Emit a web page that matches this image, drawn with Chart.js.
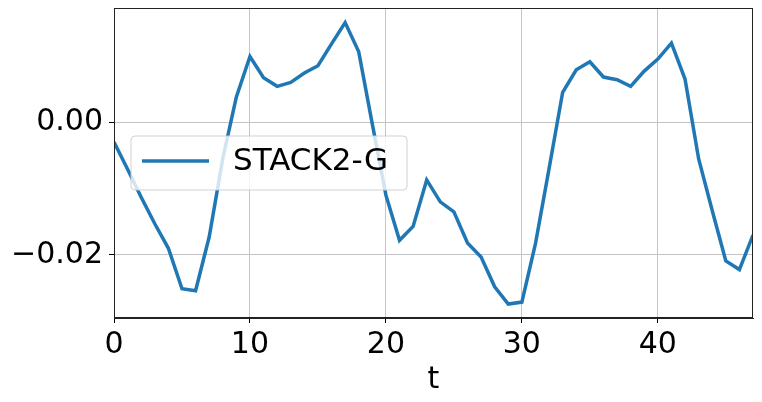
<!DOCTYPE html>
<html lang="en">
<head>
  <meta charset="UTF-8" />
  <title>STACK2-G</title>
  <style>
    html, body { margin: 0; padding: 0; background: #fff; }
    #wrap { width: 762px; height: 402px; }
  </style>
</head>
<body>
  <div id="wrap">
    <canvas id="myChart" width="762" height="402"></canvas>
  </div>

  <script src="https://cdn.jsdelivr.net/npm/chart.js"></script>

  <script>
    // data
    const tValues = [0, 1, 2, 3, 4, 5, 6, 7, 8, 9, 10, 11, 12, 13, 14, 15, 16, 17, 18, 19,
      20, 21, 22, 23, 24, 25, 26, 27, 28, 29, 30, 31, 32, 33, 34, 35, 36, 37, 38, 39,
      40, 41, 42, 43, 44, 45, 46, 47];
    const stack2G = [-0.0030, -0.0071, -0.0113, -0.0153, -0.0190, -0.0251, -0.0254, -0.0173,
      -0.0055, 0.0038, 0.0099, 0.0067, 0.0054, 0.0060, 0.0074, 0.0085, 0.0118, 0.0150,
      0.0106, -0.0003, -0.0110, -0.0178, -0.0157, -0.0087, -0.0120, -0.0135, -0.0182,
      -0.0203, -0.0248, -0.0274, -0.0271, -0.0183, -0.0070, 0.0045, 0.0079, 0.0091,
      0.0068, 0.0064, 0.0054, 0.0077, 0.0095, 0.0119, 0.0065, -0.0055, -0.0133, -0.0209,
      -0.0222, -0.0170];
    const xTicks = [0, 10, 20, 30, 40];
    const yTicks = [-0.02, 0.00];

    const FONT = 'DejaVu Sans';

    // frame round the plot + legend drawn inside the plot area
    const framePlugin = {
      id: 'frame',
      afterDraw(chart) {
        const { ctx, chartArea: a } = chart;
        ctx.save();
        ctx.strokeStyle = '#222';
        ctx.lineWidth = 1;
        ctx.strokeRect(a.left + 0.5, a.top + 0.5, a.right - a.left - 1, a.bottom - a.top - 1);

        // legend box
        const ds = chart.data.datasets[0];
        const bx = 131, by = 136, bw = 276, bh = 54, r = 4;
        ctx.beginPath();
        ctx.roundRect(bx, by, bw, bh, r);
        ctx.fillStyle = 'rgba(255,255,255,0.8)';
        ctx.fill();
        ctx.strokeStyle = 'rgba(204,204,204,0.9)';
        ctx.lineWidth = 1;
        ctx.stroke();

        ctx.beginPath();
        ctx.moveTo(142, 161);
        ctx.lineTo(209, 161);
        ctx.strokeStyle = ds.borderColor;
        ctx.lineWidth = ds.borderWidth;
        ctx.stroke();

        ctx.fillStyle = '#000';
        ctx.font = '31px "' + FONT + '"';
        ctx.textBaseline = 'middle';
        ctx.textAlign = 'left';
        ctx.fillText(ds.label, 233, 162);
        ctx.restore();
      }
    };

    const context = document.getElementById('myChart').getContext('2d');
    const myChart = new Chart(context, {
      type: 'line',
      data: {
        datasets: [{
          label: 'STACK2-G',
          data: tValues.map((t, i) => ({ x: t, y: stack2G[i] })),
          borderColor: '#1f77b4',
          borderWidth: 3.5,
          pointRadius: 0,
          tension: 0,
          fill: false
        }]
      },
      options: {
        responsive: false,
        animation: false,
        layout: { padding: { left: 0, right: 9, top: 8, bottom: 0 } },
        plugins: {
          legend: { display: false },
          tooltip: { enabled: false }
        },
        scales: {
          x: {
            type: 'linear',
            min: 0,
            max: 47,
            afterBuildTicks: (scale) => { scale.ticks = xTicks.map(v => ({ value: v })); },
            afterFit: (scale) => {
              scale.height = 84;
              scale.paddingLeft = 0;
              scale.paddingRight = 0;
            },
            ticks: {
              color: '#000',
              font: { family: FONT, size: 30 },
              padding: 4,
              maxRotation: 0
            },
            grid: { color: '#c4c4c4', lineWidth: 1, tickColor: '#000', tickLength: 5 },
            border: { color: '#222' },
            title: {
              display: true,
              text: 't',
              color: '#000',
              font: { family: FONT, size: 30 },
              padding: { top: 0, bottom: 4 }
            }
          },
          y: {
            min: -0.0295,
            max: 0.0172,
            afterBuildTicks: (scale) => { scale.ticks = yTicks.map(v => ({ value: v })); },
            afterFit: (scale) => {
              scale.width = 114;
              scale.paddingTop = 0;
              scale.paddingBottom = 0;
            },
            ticks: {
              color: '#000',
              font: { family: FONT, size: 30 },
              padding: 6,
              callback: (v) => (v < 0 ? '\u2212' : '') + Math.abs(v).toFixed(2)
            },
            grid: { color: '#c4c4c4', lineWidth: 1, tickColor: '#000', tickLength: 5 },
            border: { color: '#222' }
          }
        }
      },
      plugins: [framePlugin]
    });
  </script>
</body>
</html>
